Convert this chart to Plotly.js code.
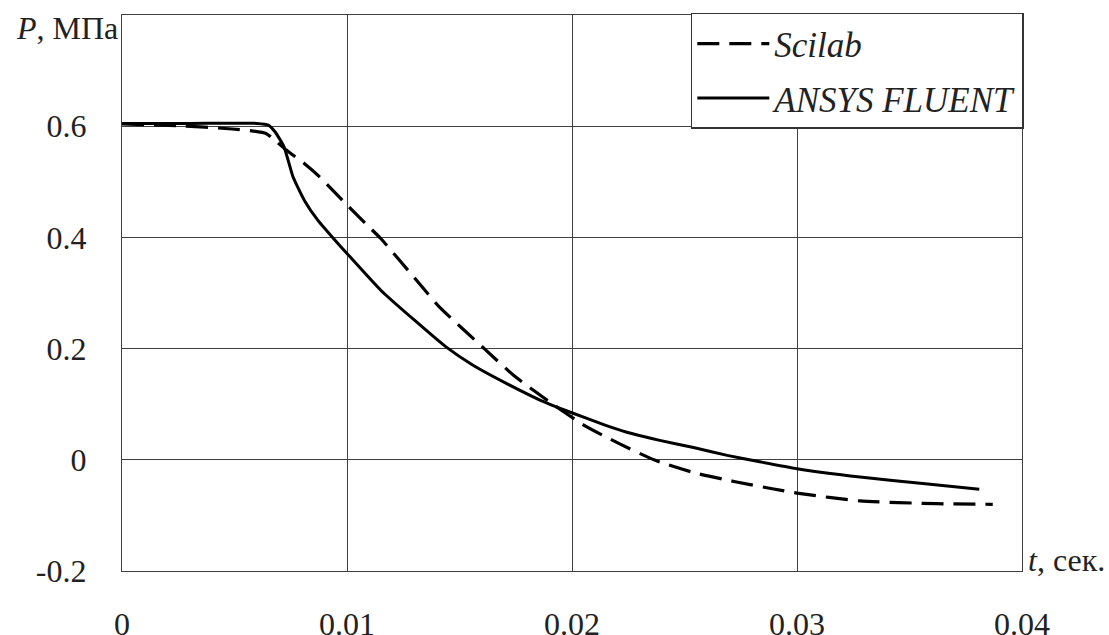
<!DOCTYPE html>
<html>
<head>
<meta charset="utf-8">
<script src="https://cdn.plot.ly/plotly-3.0.1.min.js"></script>
<style>
html,body{margin:0;padding:0;background:#fff;}
#chart{width:1109px;height:635px;}
#chart svg text, #chart svg tspan { font-family: 'Liberation Serif', serif !important; }
</style>
</head>
<body>
<div id="chart"></div>
<script>
// Scilab (dashed)
const scilabT = [0, 0.0025, 0.0049, 0.0057, 0.0064, 0.0067, 0.0073, 0.0081, 0.0087, 0.0095, 0.0109, 0.0115, 0.0134, 0.0141, 0.0161, 0.0174, 0.0189, 0.0205, 0.0221, 0.0237, 0.0255, 0.0272, 0.0289, 0.0300, 0.0328, 0.0362, 0.0387];
const scilabP = [0.604, 0.601, 0.595, 0.592, 0.587, 0.578, 0.557, 0.533, 0.512, 0.479, 0.422, 0.398, 0.308, 0.275, 0.200, 0.152, 0.107, 0.063, 0.029, -0.001, -0.024, -0.039, -0.052, -0.060, -0.074, -0.079, -0.080];
// ANSYS FLUENT (solid)
const fluentT = [0, 0.003, 0.0060, 0.0065, 0.0068, 0.0072, 0.0076, 0.0081, 0.0087, 0.0094, 0.0100, 0.0115, 0.0130, 0.0144, 0.0156, 0.0171, 0.0186, 0.0199, 0.0215, 0.0224, 0.0239, 0.0254, 0.0269, 0.0284, 0.0300, 0.0328, 0.0357, 0.0381];
const fluentP = [0.605, 0.605, 0.605, 0.602, 0.590, 0.563, 0.509, 0.467, 0.431, 0.398, 0.371, 0.305, 0.251, 0.203, 0.170, 0.137, 0.107, 0.086, 0.062, 0.050, 0.035, 0.022, 0.008, -0.004, -0.016, -0.031, -0.043, -0.053];

const seriesNames = ['Scilab', 'ANSYS FLUENT'];
const xTicks = [0, 0.01, 0.02, 0.03, 0.04];
const xTickText = ['0', '0.01', '0.02', '0.03', '0.04'];
const yTicks = [-0.2, 0, 0.2, 0.4, 0.6];
const yTickText = ['-0.2', '0', '0.2', '0.4', '0.6'];

const fam = 'Liberation Serif';

const traces = [
  {x: scilabT, y: scilabP, name: '<i>' + seriesNames[0] + '</i>', mode: 'lines', legendgroup: 'a',
   line: {color: '#000', width: 3.2, dash: '22px,10px', shape: 'spline', smoothing: 0.5}},
  {x: fluentT, y: fluentP, name: '<i>' + seriesNames[1] + '</i>', mode: 'lines', legendgroup: 'b',
   line: {color: '#000', width: 3, shape: 'spline', smoothing: 0.5}}
];

const layout = {
  width: 1109, height: 635,
  margin: {l: 122, r: 87, t: 15, b: 64},
  paper_bgcolor: '#fff', plot_bgcolor: '#fff',
  font: {family: fam, size: 32, color: '#222'},
  showlegend: true,
  legend: {
    x: 1.002, xanchor: 'right', y: 1.004, yanchor: 'top',
    bgcolor: '#fff', bordercolor: '#333', borderwidth: 1.5,
    font: {family: fam, size: 35, color: '#222'},
    itemwidth: 72, tracegroupgap: 6, traceorder: 'grouped'
  },
  xaxis: {
    range: [0, 0.04], tickvals: xTicks, ticktext: xTickText,
    showgrid: true, gridcolor: '#404040', gridwidth: 1.3,
    showline: true, linecolor: '#404040', linewidth: 1.3, mirror: true,
    ticks: '', ticklabelstandoff: 24, zeroline: false,
    tickfont: {family: fam, size: 32, color: '#222'}
  },
  yaxis: {
    range: [-0.2, 0.8], tickvals: yTicks, ticktext: yTickText,
    showgrid: true, gridcolor: '#404040', gridwidth: 1.3,
    showline: true, linecolor: '#404040', linewidth: 1.3, mirror: true,
    ticks: '', ticklabelstandoff: 28, zeroline: false,
    tickfont: {family: fam, size: 32, color: '#222'}
  },
  annotations: [
    {xref: 'paper', yref: 'paper', x: -0.002, y: 0.976, xanchor: 'right', yanchor: 'middle',
     text: '<i>P</i>, МПа', showarrow: false, font: {family: fam, size: 32, color: '#222'}},
    {xref: 'paper', yref: 'paper', x: 1.004, y: 0.02, xanchor: 'left', yanchor: 'middle',
     text: '<i>t</i>, сек.', showarrow: false, font: {family: fam, size: 32, color: '#222'}}
  ]
};

Plotly.newPlot('chart', traces, layout, {displayModeBar: false});
</script>
</body>
</html>
